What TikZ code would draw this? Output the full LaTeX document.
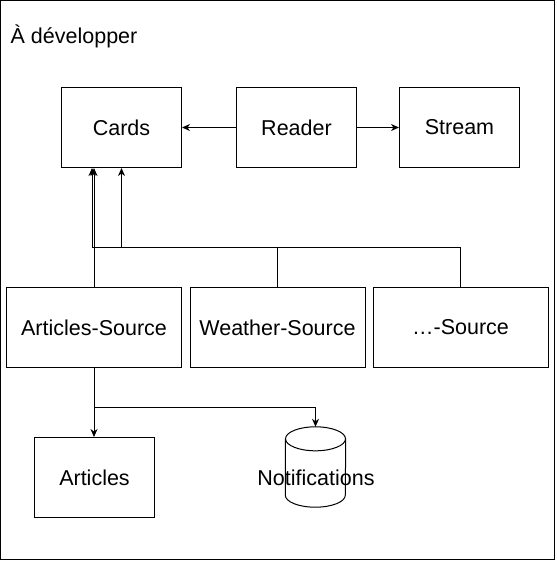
\documentclass[tikz,border=0pt]{standalone}
\usepackage{fontspec}
\setmainfont{Liberation Sans}
\usetikzlibrary{arrows.meta}
\begin{document}
\begin{tikzpicture}[x=1pt,y=-1pt,
  lbl/.style={font=\fontsize{21.5}{26}\selectfont},
  box/.style={draw, line width=1pt, minimum width=120pt, minimum height=80pt, inner sep=0pt, lbl},
  wide/.style={box, minimum width=175pt},
  conn/.style={line width=1pt},
  arr/.style={conn, -{Stealth[length=8pt,width=7pt,inset=2.5pt]}}]
\useasboundingbox (0,0) rectangle (556,561);
\node[draw, line width=1pt, minimum width=554pt, minimum height=559pt, inner sep=0pt] (frame) at (277.6,280.2) {};
\node[lbl, anchor=base west, inner sep=0pt] (title) at (10.5,43.5) {À développer};
\node[box] (cards) at (121.5,127.5) {Cards};
\node[box] (reader) at (296.5,127.5) {Reader};
\node[box] (stream) at (459.5,127.5) {Stream};
\node[wide] (asrc) at (94,327.5) {Articles-Source};
\node[wide] (wsrc) at (277.5,327.5) {Weather-Source};
\node[wide] (dsrc) at (460.5,327.5) {…-Source};
\node[box] (articles) at (94.5,477.5) {Articles};
% cylinder
\node[minimum width=60pt, minimum height=80pt, inner sep=0pt] (notif) at (315.5,467) {};
\draw[conn] ([yshift=-12pt]notif.north) ellipse [x radius=30pt, y radius=12pt];
\draw[conn] ([yshift=-12pt]notif.north west) -- ([yshift=12pt]notif.south west)
  arc [start angle=180, end angle=360, x radius=30pt, y radius=12pt]
  -- ([yshift=-12pt]notif.north east);
\node[lbl, inner sep=0pt] (notiftext) at (316,478) {Notifications};
% connectors
\draw[arr] (reader.west) -- (cards.east);
\draw[arr] (reader.east) -- (stream.west);
\draw[arr] (asrc.north) -- (asrc.north |- cards.south);
\coordinate (bus) at (92,247.5);
\draw[arr] (wsrc.north) |- (bus) -- (bus |- cards.south);
\draw[arr] (dsrc.north) |- (cards.south |- bus) -- (cards.south);
\draw[arr] (asrc.south) -- (asrc.south |- articles.north);
\coordinate (split) at (94,407.5);
\draw[arr] (split) -| (notif.north);
\end{tikzpicture}
\end{document}
